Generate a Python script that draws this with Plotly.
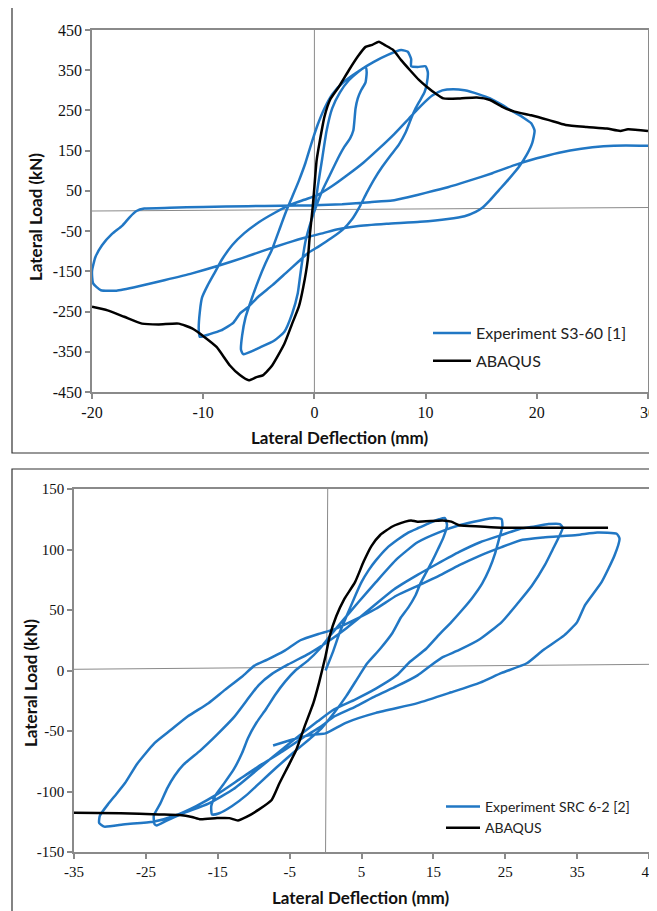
import plotly.graph_objects as go

# ---------------- Top chart (S3-60) ----------------
top_exp_x = [0, 0.3, 0.7, 1.1, 1.6, 2.3, 3.1, 3.9, 4.6,
             4.7, 4.6, 4.2, 3.9, 3.7, 3.6, 3.5, 3.2, 2.7, 2.1, 1.4, 0.7, 0.2, -0.3, -0.8, -1.1, -1.3, -1.5, -2.0, -2.7, -3.6, -4.8, -6.4,
             -6.6, -6.5, -6.2, -5.6, -5.0, -4.4, -3.8, -3.2, -2.6, -2.0, -1.4, -0.8, -0.3, 0.3, 0.9, 1.6, 2.6, 4.0, 5.3, 6.6, 7.8, 8.4, 8.7, 8.7, 9.3, 10.0, 10.2, 10.1, 9.9,
             9.5, 9.1, 8.7, 8.2, 7.6, 6.9, 6.1, 5.4, 4.7, 4.1, 3.4, 2.6, 1.5, 0.4, -0.6, -1.4, -2.6, -3.8, -5.0, -6.0, -6.7, -7.3, -8.4, -9.5, -10.3,
             -10.4, -10.3, -10.1, -9.6, -9.0, -8.3, -7.4, -6.3, -5.0, -3.6, -2.2, -0.9, 0.3, 1.6, 3.0, 4.4, 5.8, 7.2, 8.5, 9.6, 10.6, 11.5, 12.5, 13.5, 14.8, 15.8, 16.8, 17.8, 18.8, 19.5, 19.8, 19.6, 19.1, 18.4, 17.5, 16.6, 15.8, 15.1, 14.5, 13.5, 12.0, 9.5, 6.5, 3.8, 2.0, 0.8, -0.8, -2.5, -4.5, -6.5, -8.5, -11.0, -13.5, -15.8, -17.8, -19.2, -19.9, -20.0, -19.7, -19.1, -18.2, -17.3, -16.6, -16.0, -15.3, -13.0, -10.0, -6.0, -3.0, 0.0, 2.5, 5.0, 7.0, 8.5, 10.0, 12.0, 14.0, 16.0, 18.0, 20.0, 22.0, 24.0, 26.0, 28.0, 30.0]
top_exp_y = [0, 60, 130, 200, 255, 295, 325, 345, 358,
             345, 320, 300, 280, 255, 225, 200, 180, 160, 130, 90, 50, 15, -25, -75, -125, -165, -205, -255, -300, -322, -338, -356,
             -345, -310, -265, -215, -170, -130, -95, -50, -5, 35, 75, 120, 165, 215, 255, 290, 320, 348, 370, 388, 400, 396, 378, 360, 358, 360, 345, 315, 295,
             275, 255, 230, 195, 165, 140, 110, 80, 45, 12, -20, -45, -68, -88, -105, -125, -155, -185, -212, -240, -255, -278, -297, -307, -313,
             -295, -250, -215, -185, -155, -120, -85, -55, -28, -5, 15, 28, 40, 62, 90, 120, 155, 192, 230, 262, 287, 300, 303, 300, 290, 280, 265, 248, 232, 218, 200, 170, 140, 110, 80, 52, 27, 8, -2, -13, -20, -27, -32, -38, -46, -55, -66, -80, -98, -117, -135, -155, -172, -187, -198, -197, -180, -150, -115, -85, -57, -37, -15, 0, 6, 8, 10, 12, 13, 14, 17, 22, 26, 35, 45, 59, 76, 94, 114, 131, 145, 155, 161, 163, 162]

top_fem_x = [-20, -18.6, -17.1, -15.5, -14, -12.2, -11, -9.9, -8.8, -7.6, -6.7, -5.9, -5.2, -4.6, -3.8, -2.7, -2, -1.4, -1, -0.6, -0.4, -0.15, 0, 0.2, 0.5, 0.9, 1.4, 2.2, 3.1, 3.9, 4.6, 5.2, 5.8, 6.3, 7.1, 7.8, 8.6, 9.4, 10.1, 10.9, 11.6, 13.1, 14.6, 15.8, 16.9, 18, 19.5, 21.1, 22.6, 24.5, 26.3, 27.5, 28.2, 30]
top_fem_y = [-238, -247, -263, -280, -282, -280, -292, -313, -338, -384, -408, -421, -413, -408, -384, -330, -280, -238, -189, -122, -56, 10, 60, 126, 176, 234, 276, 309, 350, 384, 408, 413, 421, 413, 400, 375, 350, 326, 309, 292, 280, 280, 282, 276, 259, 247, 238, 226, 214, 209, 205, 199, 203, 199]

top_hline_x = [-20, 30]
top_hline_y = [0, 8.7]
top_vline_x = [0, 0]
top_vline_y = [-450, 450]

top_xticks = [-20, -10, 0, 10, 20, 30]
top_xlabels = ["-20", "-10", "0", "10", "20", "30"]
top_yticks = [-450, -350, -250, -150, -50, 50, 150, 250, 350, 450]
top_ylabels = ["-450", "-350", "-250", "-150", "-50", "50", "150", "250", "350", "450"]

# ---------------- Bottom chart (SRC 6-2) ----------------
bot_exp_x = [0, 1, 2, 3, 4, 5, 6, 7, 8.5, 10, 11.5, 13, 14.5, 15.8, 16.6,
             16.9, 16.4, 15.7, 14.8, 14, 13.2, 12.5, 11.5, 10.5, 9.3, 7.6, 5.8, 4.6, 2.9, 1.2, -0.6, -2.3, -4.5, -6.8, -9.0, -11.0, -13.0, -14.8, -15.8,
             -15.9, -15.3, -14.2, -12.8, -11.6, -10.8, -9.6, -8.3, -7.0, -5.6, -4.2, -2.5, -0.8, 0.8, 2.5, 4.5, 7.0, 9.9, 12.8, 15.7, 18.6, 21.5, 23.5, 24.5,
             24.6, 24.2, 23.6, 22.8, 21.8, 20.4, 19.0, 17.5, 15.7, 14, 11.7, 9.9, 7, 4.1, 1.2, -1.1, -3.5, -5.8, -9.3, -12.8, -16.3, -19.8, -22.1, -23.5, -23.8,
             -23.9, -23.0, -22.0, -21.0, -19.8, -17.4, -15.1, -12.8, -11.0, -9.3, -7.5, -5.2, -2.3, 0.6, 2.9, 5.0, 7.0, 9.5, 12.8, 15.5, 18.6, 21.5, 24.5, 27.0, 29.1, 31.0, 32.6, 33.0,
             32.6, 31.6, 30.5, 28.7, 26.8, 24.5, 21.5, 18.6, 16.3, 14.6, 12.8, 9.9, 7, 4.1, 1.2, -0.6, -3.0, -6.0, -9.0, -12.0, -15.0, -18.0, -21.0, -24.0, -27.9, -30.8, -31.5,
             -31.4, -30.2, -29.1, -27.9, -26.2, -23.8, -21.5, -19.2, -16.3, -14, -11.6, -9.9, -8.1, -5.8, -3.5, -1.1, 1.2, 4.1, 7, 9.9, 12.8, 15.7, 18.6, 21.5, 24.5, 27.4, 30.3, 35, 37.8, 40.5, 40.9,
             40.2, 38.4, 36.1, 35, 33.2, 30.3, 28, 24.5, 21.5, 17.5, 12.8, 7, 2.9, 0, -1.7, -4.6, -7.3]
bot_exp_y = [0, 15, 32, 46, 60, 73, 83, 91, 101, 108, 114, 118, 122, 125, 126,
             120, 110, 101, 90, 81, 72, 62, 52, 44, 31, 18, 6, -5, -21, -35, -48, -57, -68, -80, -92, -103, -112, -118, -119,
             -112, -103, -94, -82, -68, -56, -43, -32, -20, -9, 0, 8, 18, 30, 42, 56, 73, 92, 106, 114, 120, 124, 126, 125,
             119, 110, 97, 84, 72, 60, 50, 40, 29, 18, 7, -4, -15, -24, -32, -42, -53, -64, -81, -98, -110, -118, -124, -128, -127,
             -120, -110, -97, -87, -78, -66, -53, -39, -25, -12, -3, 5, 14, 25, 35, 45, 55, 67, 79, 88, 98, 106, 112, 117, 119, 121, 121, 118,
             112, 100, 87, 70, 56, 40, 26, 17, 11, 4, -4, -13, -21, -30, -38, -46, -55, -67, -78, -90, -102, -112, -120, -125, -127, -129, -126,
             -120, -110, -102, -93, -77, -60, -49, -38, -27, -16, -5, 4, 9, 16, 25, 30, 34, 42, 51, 62, 70, 78, 87, 95, 102, 108, 110, 112, 114, 113, 109,
             95, 73, 54, 40, 29, 17, 6, -2, -10, -18, -27, -35, -43, -52, -53, -57, -62]

bot_fem_x = [-35, -28.5, -23.2, -20.3, -18.6, -17.4, -15.1, -13.4, -12.2, -11, -9.3, -7.5, -6.4, -5.2, -4.1, -2.9, -1.7, -0.9, 0, 0.6, 1.5, 2.6, 4.1, 5.3, 6.4, 7.6, 9.3, 11.1, 11.9, 12.8, 16.3, 17.5, 18.6, 21.5, 24.5, 28, 30.3, 33.8, 39.3]
bot_fem_y = [-117.6, -118, -119, -119.5, -121, -123, -122, -122, -124, -121, -115, -107, -93, -79, -66, -46, -27, -10, 12, 29, 45, 59, 73, 90, 103, 112, 119, 123, 124, 123, 124, 123, 120, 119, 118, 118, 118, 118, 118]

bot_hline_x = [-35, 45]
bot_hline_y = [1.0, 5.1]
bot_vline_x = [0.0, 0.3]
bot_vline_y = [-150, 150]

bot_xticks = [-35, -25, -15, -5, 5, 15, 25, 35, 45]
bot_xlabels = ["-35", "-25", "-15", "-5", "5", "15", "25", "35", "45"]
bot_yticks = [-150, -100, -50, 0, 50, 100, 150]
bot_ylabels = ["-150", "-100", "-50", "0", "50", "100", "150"]

BLUE = "#2177C4"
BLACK = "#000000"
GRAY = "#8A8A8A"
OFF = 8            # page body margin of the browser
W, H = 657 - OFF, 911 - OFF


def px(x):
    return (x - OFF) / W


def py(y):
    return 1 - (y - OFF) / H


fig = go.Figure()

# reference lines
for xs, ys, xa, ya in [(top_hline_x, top_hline_y, "x", "y"), (top_vline_x, top_vline_y, "x", "y"),
                       (bot_hline_x, bot_hline_y, "x2", "y2"), (bot_vline_x, bot_vline_y, "x2", "y2")]:
    fig.add_trace(go.Scatter(x=xs, y=ys, mode="lines", line=dict(color=GRAY, width=1),
                             showlegend=False, hoverinfo="skip", xaxis=xa, yaxis=ya))

fig.add_trace(go.Scatter(x=top_exp_x, y=top_exp_y, mode="lines", name="Experiment S3-60 [1]",
                         line=dict(color=BLUE, width=2.5, shape="spline", smoothing=0.5),
                         xaxis="x", yaxis="y", legend="legend", legendgroup="a"))
fig.add_trace(go.Scatter(x=top_fem_x, y=top_fem_y, mode="lines", name="ABAQUS",
                         line=dict(color=BLACK, width=2.5, shape="spline", smoothing=0.5),
                         xaxis="x", yaxis="y", legend="legend", legendgroup="b"))
fig.add_trace(go.Scatter(x=bot_exp_x, y=bot_exp_y, mode="lines", name="Experiment SRC 6-2 [2]",
                         line=dict(color=BLUE, width=2.5, shape="spline", smoothing=0.5),
                         xaxis="x2", yaxis="y2", legend="legend2", legendgroup="c"))
fig.add_trace(go.Scatter(x=bot_fem_x, y=bot_fem_y, mode="lines", name="ABAQUS",
                         line=dict(color=BLACK, width=2.5, shape="spline", smoothing=0.5),
                         xaxis="x2", yaxis="y2", legend="legend2", legendgroup="d"))

tickfont_top = dict(family="Liberation Serif", size=16, color="#111")
tickfont_bot = dict(family="Liberation Serif", size=15, color="#111")
axis_common = dict(showgrid=False, zeroline=False, showline=True, linecolor=GRAY, linewidth=1.5,
                   mirror=True, ticks="outside", ticklen=5, tickcolor=GRAY, tickwidth=1.5,
                   automargin=False, fixedrange=True)

title_font = dict(family="Lato", size=17, color="#111")

fig.update_layout(
    width=W, height=H, margin=dict(l=0, r=0, t=0, b=0, autoexpand=False),
    paper_bgcolor="white", plot_bgcolor="white",
    xaxis=dict(domain=[px(92), px(648)], range=[-20, 30], tickvals=top_xticks, ticktext=top_xlabels,
               anchor="y", tickfont=tickfont_top, **axis_common),
    yaxis=dict(domain=[py(392), py(30)], range=[-450, 450], tickvals=top_yticks, ticktext=top_ylabels,
               anchor="x", tickfont=tickfont_top, **axis_common),
    xaxis2=dict(domain=[px(74), px(649)], range=[-35, 45], tickvals=bot_xticks, ticktext=bot_xlabels,
                anchor="y2", tickfont=tickfont_bot, **axis_common),
    yaxis2=dict(domain=[py(852), py(489)], range=[-150, 150], tickvals=bot_yticks, ticktext=bot_ylabels,
                anchor="x2", tickfont=tickfont_bot, **axis_common),
    legend=dict(x=px(428), y=py(316), xanchor="left", yanchor="top", bgcolor="rgba(0,0,0,0)",
                font=dict(family="Lato", size=16, color="#222"), itemwidth=38, tracegroupgap=4),
    legend2=dict(x=px(441), y=py(791), xanchor="left", yanchor="top", bgcolor="rgba(0,0,0,0)",
                 font=dict(family="Lato", size=14, color="#222"), itemwidth=34, tracegroupgap=0),
    shapes=[
        dict(type="rect", xref="paper", yref="paper", x0=px(12), x1=1.2, y0=py(453), y1=py(7),
             line=dict(color="#333", width=1.2), fillcolor="rgba(0,0,0,0)", layer="below"),
        dict(type="rect", xref="paper", yref="paper", x0=px(12), x1=1.2, y0=-0.2, y1=py(469),
             line=dict(color="#333", width=1.2), fillcolor="rgba(0,0,0,0)", layer="below"),
    ],
    annotations=[
        dict(text="<b>Lateral Load (kN)</b>", xref="paper", yref="paper", x=px(35), y=py(217),
             xanchor="center", yanchor="middle", textangle=-90, showarrow=False, font=title_font),
        dict(text="<b>Lateral Deflection (mm)</b>", xref="paper", yref="paper", x=px(340), y=py(437),
             xanchor="center", yanchor="middle", showarrow=False, font=title_font),
        dict(text="<b>Lateral Load (kN)</b>", xref="paper", yref="paper", x=px(30), y=py(683),
             xanchor="center", yanchor="middle", textangle=-90, showarrow=False, font=title_font),
        dict(text="<b>Lateral Deflection (mm)</b>", xref="paper", yref="paper", x=px(361), y=py(897),
             xanchor="center", yanchor="middle", showarrow=False, font=title_font),
    ],
)

fig.write_html("out.html")
